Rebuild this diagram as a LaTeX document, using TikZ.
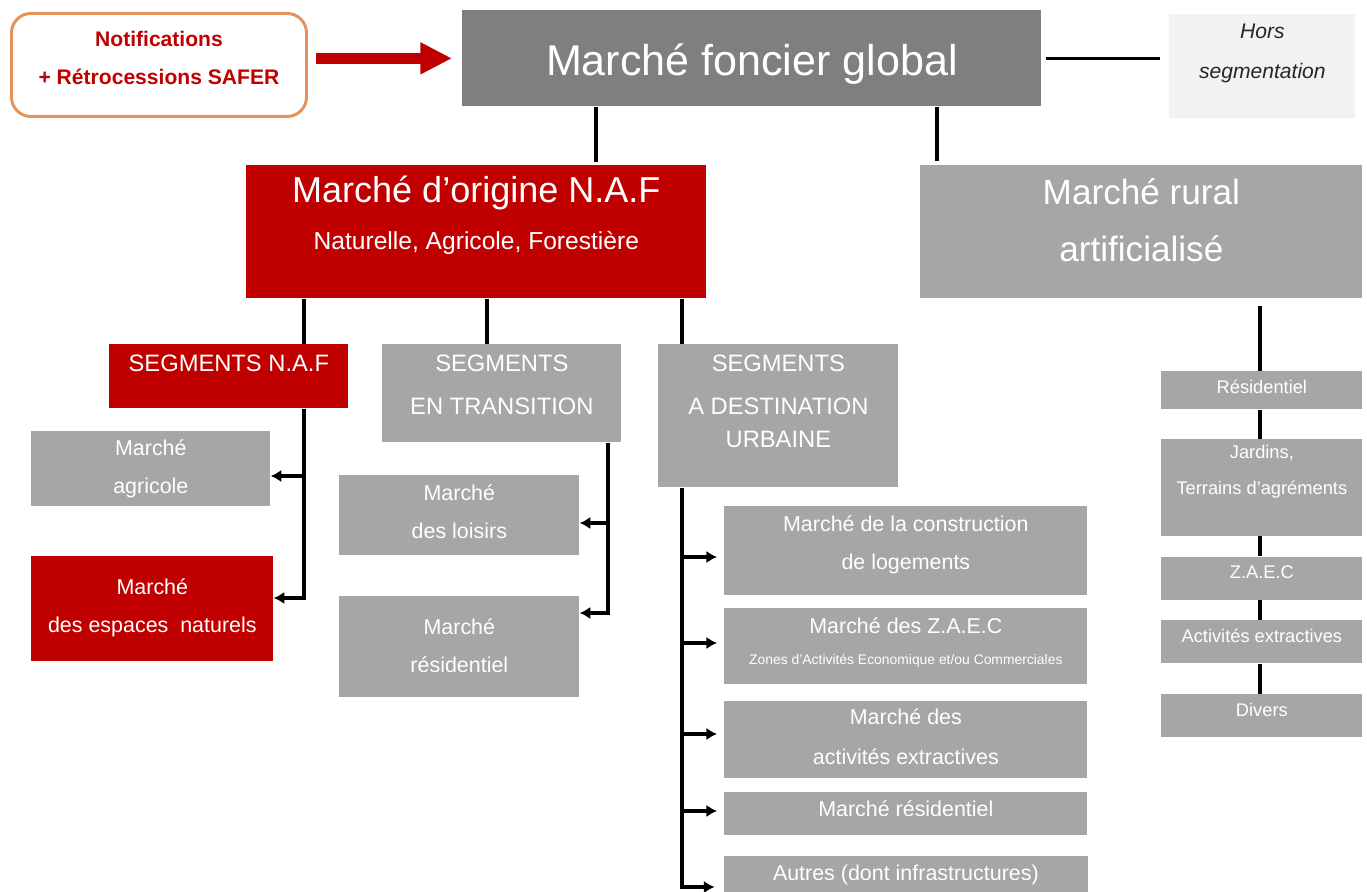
\documentclass[tikz,border=0pt]{standalone}
\usepackage{fontspec}
\setmainfont{Liberation Sans}
\usetikzlibrary{arrows.meta,positioning}
\definecolor{safred}{HTML}{C00000}
\definecolor{boxgrey}{HTML}{A6A6A6}
\definecolor{topgrey}{HTML}{7F7F7F}
\definecolor{horsbg}{HTML}{F2F2F2}
\definecolor{notifedge}{HTML}{E4945A}
% box size in px: width, height, last baseline from top
\tikzset{sz/.style n args={3}{minimum width=#1*0.2mm, minimum height=#2*0.2mm, text height=#3*0.2mm, text depth=(#2-#3)*0.2mm}}

\begin{document}
\begin{tikzpicture}[
  x=0.2mm, y=-0.2mm,
  box/.style={anchor=north west, align=center, inner xsep=0pt, inner ysep=0pt, text=white},
  greybox/.style={box, fill=boxgrey},
  redbox/.style={box, fill=safred},
  fseg/.style={font=\fontsize{13.5}{24.5}\selectfont},
  fmid/.style={font=\fontsize{12.2}{21.6}\selectfont},
  fsmall/.style={font=\fontsize{10.4}{20.5}\selectfont},
  link/.style={line width=1.9pt},
  arr/.style={link, -{Latex[length=6pt, width=7pt]}},
  bigarr/.style={line width=6.3pt, color=safred, -{Triangle[length=18pt, width=17pt]}}
]
\useasboundingbox (0,0) rectangle (1367,892);
% top row
\node[box, sz={295}{103}{71}, draw=notifedge, line width=1.7pt, rounded corners=11pt, text=safred, font=\bfseries\fontsize{12}{21.6}\selectfont] (notif) at (10,12) {Notifications\\+ Rétrocessions SAFER};
\node[box, sz={579}{96}{65}, fill=topgrey, font=\fontsize{24.5}{29}\selectfont] (global) at (462,10) {Marché foncier global};
\node[box, sz={186}{104}{64}, fill=horsbg, text=black!85, font=\itshape\fontsize{12}{22.8}\selectfont] (hors) at (1169,14) {Hors\\segmentation};
% second row
\node[redbox, sz={460}{133}{84}, font=\fontsize{20.5}{26.7}\selectfont] (naf) at (246,165) {Marché d’origine N.A.F\\{\fontsize{14}{17}\selectfont Naturelle, Agricole, Forestière}};
\node[greybox, sz={442}{133}{96}, font=\fontsize{20}{32.4}\selectfont] (rural) at (920,165) {Marché rural\\artificialisé};
% segments
\node[redbox, sz={239}{64}{27}, fseg] (segnaf) at (109,344) {SEGMENTS N.A.F};
\node[greybox, sz={239}{98}{70}, fseg] (segtrans) at (382,344) {SEGMENTS\\EN TRANSITION};
\node[greybox, sz={240}{143}{103}, fseg] (segurb) at (658,344) {SEGMENTS\\A DESTINATION\\[-5.7pt]URBAINE};
% markets
\node[greybox, sz={239}{75}{62}, fmid] (agri) at (31,431) {Marché\\agricole};
\node[redbox, sz={242}{105}{76}, fmid] (esp) at (31,556) {Marché\\des espaces~ naturels};
\node[greybox, sz={240}{80}{63}, fmid] (lois) at (339,475) {Marché\\des loisirs};
\node[greybox, sz={240}{101}{76}, fmid] (resid) at (339,596) {Marché\\résidentiel};
\node[greybox, sz={363}{89}{63}, fmid] (constr) at (724,506) {Marché de la construction\\de logements};
\node[greybox, sz={363}{76}{56}, fmid, below=2.4mm of constr] (zaec) {Marché des Z.A.E.C\\[-4pt]{\fontsize{7.9}{9}\selectfont Zones d’Activités Economique et/ou Commerciales}};
\node[greybox, sz={363}{77}{64}, fmid, below=3.2mm of zaec] (extr) {Marché des\\[1.2pt]activités extractives};
\node[greybox, sz={363}{43}{24}, fmid, below=2.8mm of extr] (mresid) {Marché résidentiel};
\node[greybox, sz={364}{44}{24}, fmid, below=4mm of mresid] (autres) {Autres (dont infrastructures)};
% rural column
\node[greybox, sz={201}{38}{22}, fsmall] (r1) at (1161,371) {Résidentiel};
\node[greybox, sz={201}{97}{55}, fsmall, below=5.8mm of r1] (r2) {Jardins,\\Terrains d’agréments};
\node[greybox, sz={201}{43}{22}, fsmall, below=4mm of r2] (r3) {Z.A.E.C};
\node[greybox, sz={201}{43}{22}, fsmall, below=4mm of r3] (r4) {Activités extractives};
\node[greybox, sz={201}{43}{22}, fsmall, below=6mm of r4] (r5) {Divers};
% taps and branch points
\coordinate (xg1) at (596,0);
\coordinate (xg2) at (937,0);
\coordinate (xn1) at (304,0);
\coordinate (xn2) at (487,0);
\coordinate (xn3) at (682,0);
\coordinate (xr) at (1260,0);
\coordinate (jagri) at (304,476);
\coordinate (jesp) at (304,598);
\coordinate (jlois) at (608,523);
\coordinate (jres) at (608,613);
\coordinate (jc1) at (682,557);
\coordinate (jc2) at (682,643);
\coordinate (jc3) at (682,734);
\coordinate (jc4) at (682,811);
\coordinate (jc5) at (682,887);
% connectors
\draw[bigarr, shorten <=1.6mm, shorten >=2mm] (notif.east |- global.west) -- (global.west);
\draw[link, shorten <=0.8mm, shorten >=1.8mm] (global.east) -- (global.east -| hors.west);
\draw[link, shorten >=0.6mm] (global.south -| xg1) -- (naf.north -| xg1);
\draw[link, shorten >=0.8mm] (global.south -| xg2) -- (rural.north -| xg2);
\draw[link] (naf.south -| xn1) -- (segnaf.north -| xn1);
\draw[link] (naf.south -| xn2) -- (segtrans.north -| xn2);
\draw[link] (naf.south -| xn3) -- (segurb.north -| xn3);
\draw[arr] (jagri) -- (jagri -| agri.east);
\draw[arr] (segnaf.south -| jesp) -- (jesp) -- (jesp -| esp.east);
\draw[arr] (jlois) -- (jlois -| lois.east);
\draw[arr] (segtrans.south -| jres) -- (jres) -- (jres -| resid.east);
\draw[arr, shorten >=1.4mm] (jc1) -- (jc1 -| constr.west);
\draw[arr, shorten >=1.4mm] (jc2) -- (jc2 -| zaec.west);
\draw[arr, shorten >=1.4mm] (jc3) -- (jc3 -| extr.west);
\draw[arr, shorten >=1.4mm] (jc4) -- (jc4 -| mresid.west);
\draw[arr, shorten >=1.8mm] (segurb.south -| jc5) -- (jc5) -- (jc5 -| autres.west);
\draw[link, shorten <=1.4mm] (rural.south -| xr) -- (r1.north -| xr);
\draw[link] (r1.south -| xr) -- (r2.north -| xr);
\draw[link] (r2.south -| xr) -- (r3.north -| xr);
\draw[link] (r3.south -| xr) -- (r4.north -| xr);
\draw[link] (r4.south -| xr) -- (r5.north -| xr);
\end{tikzpicture}
\end{document}
